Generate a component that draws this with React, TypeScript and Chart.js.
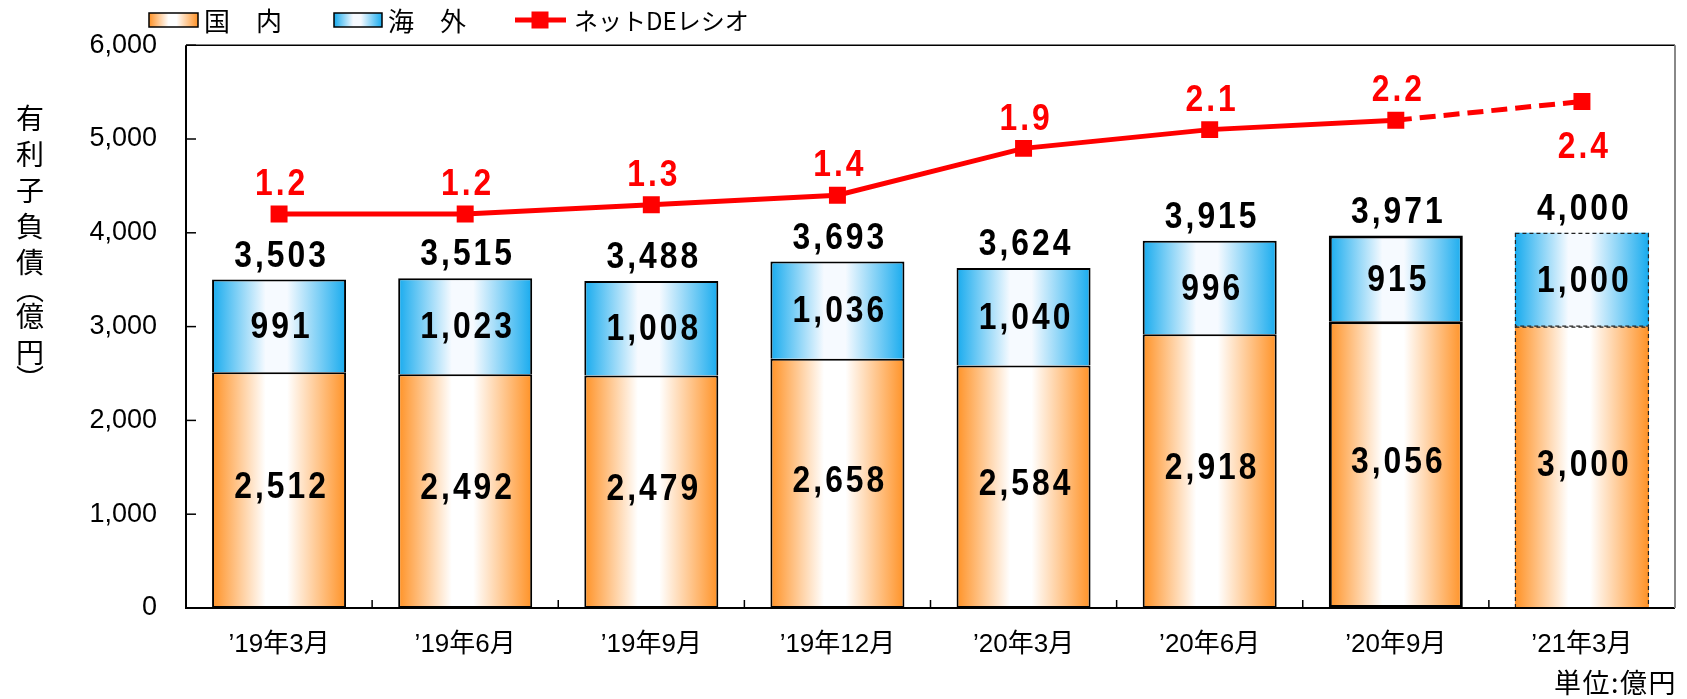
import React, { useEffect, useRef } from 'react';
import { Chart, registerables } from 'chart.js';

Chart.register(...registerables);

// ---- data ----
const categories = ['’19年3月', '’19年6月', '’19年9月', '’19年12月', '’20年3月', '’20年6月', '’20年9月', '’21年3月'];
const domestic = [2512, 2492, 2479, 2658, 2584, 2918, 3056, 3000];
const overseas = [991, 1023, 1008, 1036, 1040, 996, 915, 1000];
const totals = [3503, 3515, 3488, 3693, 3624, 3915, 3971, 4000];
const deRatio = [1.2, 1.2, 1.3, 1.4, 1.9, 2.1, 2.2, 2.4];
const yMin = 0;
const yMax = 6000;
const yStep = 1000;
const legendLabels = ['国　内', '海　外', 'ネットDEレシオ'];
const yTitleChars = ['有', '利', '子', '負', '債', '︵', '億', '円', '︶'];
const unitLabel = '単位:億円';

// ---- styles ----
const W = 1687;
const H = 699;
const BAR_PCT = 0.72;
const ORANGE = '#FF9226';
const ORANGE_MID = '#FFFFFF';
const BLUE = '#18ABEE';
const BLUE_MID = '#F6FAFF';
const RED = '#FF0000';
const NUM_FONT = '"Liberation Sans", Arial, "Noto Sans CJK JP", sans-serif';
const JP_FONT = '"Noto Sans CJK JP", sans-serif';

function makeGrad(c: CanvasRenderingContext2D, x0: number, x1: number, edge: string, mid: string) {
  const g = c.createLinearGradient(x0, 0, x1, 0);
  g.addColorStop(0, edge);
  g.addColorStop(0.4, mid);
  g.addColorStop(0.56, mid);
  g.addColorStop(1, edge);
  return g;
}

const barGradient = (edge: string, mid: string) => (ctx: any) => {
  const chart = ctx.chart;
  const xs = chart.scales && chart.scales.x;
  if (!xs || ctx.dataIndex === undefined || !isFinite(xs.width)) return edge;
  const cx = xs.getPixelForValue(ctx.dataIndex);
  const w = (xs.width / categories.length) * BAR_PCT;
  return makeGrad(chart.ctx, cx - w / 2, cx + w / 2, edge, mid);
};

const lastIdx = categories.length - 1;
const barBorderWidths = categories.map((_, i) => (i === lastIdx ? 0 : i === lastIdx - 1 ? 3 : 2));

// condensed bold label
function drawCondensed(c: CanvasRenderingContext2D, text: string, x: number, y: number) {
  const sx = 0.86;
  c.save();
  c.translate(x, y);
  c.scale(sx, 1);
  c.letterSpacing = '3.5px';
  c.font = `bold 37px ${NUM_FONT}`;
  c.textAlign = 'center';
  c.textBaseline = 'middle';
  c.fillText(text, 1.75, 0);
  c.restore();
}

const overlayPlugin = {
  id: 'overlay',
  beforeDraw(chart: any) {
    chart.ctx.letterSpacing = '0px';
  },
  afterDatasetsDraw(chart: any) {
    const c: CanvasRenderingContext2D = chart.ctx;
    const area = chart.chartArea;
    const ys = chart.scales.y;
    const xs = chart.scales.x;
    c.save();

    // dashed border for forecast bar
    [1, 2].forEach((di) => {
      const el: any = chart.getDatasetMeta(di).data[lastIdx];
      if (!el) return;
      c.save();
      c.setLineDash([4, 3]);
      c.lineWidth = 1.2;
      c.strokeStyle = '#222';
      const top = Math.min(el.y, el.base);
      const h = Math.abs(el.base - el.y);
      c.strokeRect(el.x - el.width / 2 + 0.5, top + 0.5, el.width - 1, h - 1);
      c.restore();
    });

    // frame
    c.lineWidth = 2;
    c.strokeStyle = '#000';
    c.beginPath();
    c.moveTo(area.left, area.top);
    c.lineTo(area.left, area.bottom);
    c.lineTo(area.right, area.bottom);
    c.stroke();
    c.lineWidth = 1.5;
    c.beginPath();
    c.moveTo(area.left, area.top);
    c.lineTo(area.right, area.top);
    c.stroke();
    c.strokeStyle = '#888';
    c.lineWidth = 2;
    c.beginPath();
    c.moveTo(area.right, area.top);
    c.lineTo(area.right, area.bottom);
    c.stroke();

    // y ticks (inward)
    c.strokeStyle = '#000';
    c.lineWidth = 1.5;
    for (let v = yMin; v <= yMax; v += yStep) {
      const y = ys.getPixelForValue(v);
      c.beginPath();
      c.moveTo(area.left, y);
      c.lineTo(area.left + 10, y);
      c.stroke();
    }
    // x ticks (category boundaries, inward)
    for (let i = 1; i < categories.length; i++) {
      const x = (xs.getPixelForValue(i - 1) + xs.getPixelForValue(i)) / 2;
      c.beginPath();
      c.moveTo(x, area.bottom);
      c.lineTo(x, area.bottom - 8);
      c.stroke();
    }

    // value labels
    c.fillStyle = '#000';
    const fmt = (v: number) => v.toLocaleString('en-US');
    const dMeta = chart.getDatasetMeta(1).data;
    const oMeta = chart.getDatasetMeta(2).data;
    dMeta.forEach((el: any, i: number) => {
      drawCondensed(c, fmt(domestic[i]), el.x + 1, (el.y + el.base) / 2 - 2);
    });
    oMeta.forEach((el: any, i: number) => {
      drawCondensed(c, fmt(overseas[i]), el.x + 1, (el.y + el.base) / 2 + 2);
      drawCondensed(c, fmt(totals[i]), el.x + 1, el.y - 23);
    });

    // line labels
    c.fillStyle = RED;
    const lMeta = chart.getDatasetMeta(0).data;
    lMeta.forEach((pt: any, i: number) => {
      const dy = i === lastIdx ? 46 : -29;
      drawCondensed(c, deRatio[i].toFixed(1), pt.x + 1, pt.y + dy);
    });
    c.restore();
  },
  afterDraw(chart: any) {
    const c: CanvasRenderingContext2D = chart.ctx;
    c.save();
    c.letterSpacing = '0px';
    c.textBaseline = 'middle';
    c.textAlign = 'left';
    c.fillStyle = '#000';
    const ly = 20;

    // legend: domestic
    c.fillStyle = makeGrad(c, 149, 198, ORANGE, ORANGE_MID);
    c.fillRect(149, ly - 7, 49, 14);
    c.strokeStyle = '#000';
    c.lineWidth = 1.5;
    c.strokeRect(149, ly - 7, 49, 14);
    c.fillStyle = '#000';
    c.font = `26px ${JP_FONT}`;
    c.fillText(legendLabels[0], 204, ly + 1);
    // overseas
    c.fillStyle = makeGrad(c, 334, 382, BLUE, BLUE_MID);
    c.fillRect(334, ly - 7, 48, 14);
    c.strokeRect(334, ly - 7, 48, 14);
    c.fillStyle = '#000';
    c.fillText(legendLabels[1], 388, ly + 1);
    // line
    c.strokeStyle = RED;
    c.lineWidth = 5;
    c.beginPath();
    c.moveTo(515, ly);
    c.lineTo(566, ly);
    c.stroke();
    c.fillStyle = RED;
    c.fillRect(540 - 8.5, ly - 8.5, 17, 17);
    c.fillStyle = '#000';
    c.font = `24px ${JP_FONT}`;
    c.fillText(legendLabels[2], 574, ly + 1);

    // y title (vertical)
    c.font = `28px ${JP_FONT}`;
    c.textAlign = 'center';
    let y = 118;
    yTitleChars.forEach((ch, i) => {
      const isParen = ch === '︵' || ch === '︶';
      const next = yTitleChars[i + 1];
      c.fillText(ch, 30, y);
      const nextParen = next === '︵' || next === '︶';
      y += isParen || nextParen ? 27 : 36;
    });

    // unit label
    c.font = `27px ${JP_FONT}`;
    c.textAlign = 'right';
    c.letterSpacing = '1.5px';
    c.fillText(unitLabel, 1677, 683);
    c.restore();
  },
};

export default function App() {
  const ref = useRef<HTMLCanvasElement | null>(null);
  useEffect(() => {
    const canvas = ref.current;
    if (!canvas) return;
    const chart = new Chart(canvas, {
      type: 'bar',
      data: {
        labels: categories,
        datasets: [
          {
            type: 'line',
            label: legendLabels[2],
            data: deRatio,
            yAxisID: 'y2',
            borderColor: RED,
            backgroundColor: RED,
            borderWidth: 5,
            pointStyle: 'rect',
            pointRadius: 12,
            pointHoverRadius: 12,
            pointBorderWidth: 0,
            pointBackgroundColor: RED,
            tension: 0,
            order: 0,
            segment: {
              borderDash: (s: any) => (s.p0DataIndex === lastIdx - 1 ? [16, 8] : undefined),
            },
          } as any,
          {
            label: legendLabels[0],
            data: domestic,
            backgroundColor: barGradient(ORANGE, ORANGE_MID),
            borderColor: '#000',
            borderWidth: barBorderWidths,
            borderSkipped: false,
            stack: 's',
            order: 1,
            barPercentage: BAR_PCT,
            categoryPercentage: 1,
          } as any,
          {
            label: legendLabels[1],
            data: overseas,
            backgroundColor: barGradient(BLUE, BLUE_MID),
            borderColor: '#000',
            borderWidth: barBorderWidths,
            borderSkipped: 'bottom',
            stack: 's',
            order: 1,
            barPercentage: BAR_PCT,
            categoryPercentage: 1,
          } as any,
        ],
      },
      options: {
        animation: false,
        responsive: false,
        maintainAspectRatio: false,
        layout: { padding: { left: 0, top: 45, right: 7, bottom: 0 } },
        plugins: { legend: { display: false }, tooltip: { enabled: false } },
        scales: {
          x: {
            stacked: true,
            grid: { display: false, drawTicks: false },
            border: { display: false },
            ticks: {
              color: '#000',
              font: { family: NUM_FONT, size: 26 },
              padding: 21,
              maxRotation: 0,
              autoSkip: false,
            },
            afterFit: (s: any) => {
              s.height = H - 608;
            },
          },
          y: {
            stacked: true,
            min: yMin,
            max: yMax,
            grid: { display: false, drawTicks: false },
            border: { display: false },
            ticks: {
              stepSize: yStep,
              color: '#000',
              font: { family: NUM_FONT, size: 27 },
              padding: 29,
              callback: (v: any) => Number(v).toLocaleString('en-US'),
            },
            afterFit: (s: any) => {
              s.width = 186;
            },
          },
          y2: { display: false, min: -3, max: 3, position: 'right' },
        },
      } as any,
      plugins: [overlayPlugin],
    });
    return () => chart.destroy();
  }, []);
  return (
    <div style={{ position: 'fixed', left: 0, top: 0, width: W, height: H, background: '#fff' }}>
      <canvas ref={ref} width={W} height={H} style={{ width: W, height: H, display: 'block' }} />
    </div>
  );
}
